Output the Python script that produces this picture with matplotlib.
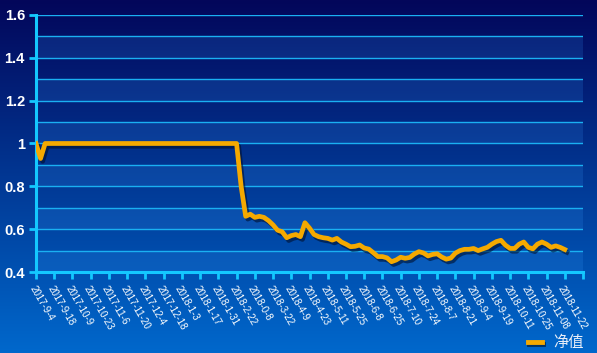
import numpy as np
import matplotlib
matplotlib.use('Agg')
import matplotlib.pyplot as plt
import matplotlib.patheffects as pe

# x 轴分类标签
date_labels = ['2017-9-4', '2017-9-18', '2017-10-9', '2017-10-23', '2017-11-6',
               '2017-11-20', '2017-12-4', '2017-12-18', '2018-1-3', '2018-1-17',
               '2018-1-31', '2018-2-22', '2018-0-8', '2018-3-22', '2018-4-9',
               '2018-4-23', '2018-5-11', '2018-5-25', '2018-6-8', '2018-6-25',
               '2018-7-10', '2018-7-24', '2018-8-7', '2018-8-21', '2018-9-4',
               '2018-9-19', '2018-10-11', '2018-10-25', '2018-11-08', '2018-11-22']

# 净值序列 (每个标签间隔 4 个采样点)
steps_per_label = 4
nav = [1.0, 0.93] + [1.0] * 43 + [
    0.80, 0.66, 0.67, 0.655, 0.66, 0.655, 0.64, 0.62, 0.595, 0.588,
    0.56, 0.57, 0.575, 0.565, 0.63, 0.605, 0.575, 0.565, 0.56, 0.557,
    0.549, 0.557, 0.54, 0.53, 0.518, 0.52, 0.526, 0.512, 0.507, 0.49,
    0.472, 0.472, 0.466, 0.448, 0.456, 0.469, 0.464, 0.468, 0.484, 0.495,
    0.489, 0.475, 0.482, 0.485, 0.47, 0.46, 0.465, 0.488, 0.50, 0.506,
    0.506, 0.51, 0.50, 0.508, 0.515, 0.53, 0.542, 0.548, 0.525, 0.51,
    0.51, 0.53, 0.54, 0.515, 0.508, 0.53, 0.54, 0.53, 0.515, 0.522,
    0.515, 0.505]

y_ticks = [0.4, 0.6, 0.8, 1.0, 1.2, 1.4, 1.6]
y_tick_labels = ['0.4', '0.6', '0.8', '1', '1.2', '1.4', '1.6']

LINE_COLOR = '#f5a900'
AXIS_COLOR = '#14c8ff'

fig = plt.figure(figsize=(5.97, 3.53), dpi=100)

# 背景渐变
bg = fig.add_axes([0, 0, 1, 1], zorder=-10)
top = np.array([3, 6, 90]) / 255
bottom = np.array([0, 104, 204]) / 255
t = np.linspace(0, 1, 256)[:, None]
grad = top[None, :] * (1 - t) + bottom[None, :] * t
bg.imshow(grad[:, None, :].repeat(2, axis=1), aspect='auto', extent=[0, 1, 0, 1])
bg.axis('off')

ax = fig.add_axes([36 / 597, 1 - 272 / 353, (583 - 36) / 597, (272 - 15) / 353])
ax.patch.set_alpha(0)

x = np.arange(len(nav)) / steps_per_label
n_labels = len(date_labels)
ax.set_xlim(0, n_labels)
ax.set_ylim(0.4, 1.6)

# 条纹背景 + 网格线
for k in range(12):
    lo = 0.4 + 0.1 * k
    if k % 2 == 0:
        ax.axhspan(lo, lo + 0.1, color='#3aa0ff', alpha=0.16, lw=0, zorder=0)
for k in range(1, 13):
    ax.axhline(0.4 + 0.1 * k, color='#1ab0f2', lw=1.0, zorder=1)

ax.plot(x, nav, color=LINE_COLOR, lw=3.4, solid_joinstyle='round', zorder=5,
        path_effects=[pe.SimpleLineShadow(offset=(1.5, -2), shadow_color='#001030', alpha=0.6),
                      pe.Normal()])

for s in ['top', 'right']:
    ax.spines[s].set_visible(False)
for s in ['left', 'bottom']:
    ax.spines[s].set_color(AXIS_COLOR)
    ax.spines[s].set_linewidth(2.2)

ax.set_yticks(y_ticks)
ax.set_yticklabels(y_tick_labels, color='white', fontsize=10.5, fontweight='bold',
                   family='Liberation Sans')
ax.set_xticks(np.arange(n_labels + 1))
ax.set_xticklabels(date_labels + [''], color='white', fontsize=7,
                   family='Liberation Sans', rotation=-60, ha='left', va='top',
                   rotation_mode='anchor')
ax.tick_params(axis='both', colors=AXIS_COLOR, length=5, width=2, direction='out')
ax.tick_params(axis='x', pad=4, labelcolor='white')
ax.tick_params(axis='y', pad=3, labelcolor='white')

# 图例
fig.lines.append(plt.Line2D([528 / 597, 542 / 597], [1 - 342 / 353] * 2,
                            color=LINE_COLOR, lw=3.5, transform=fig.transFigure,
                            path_effects=[pe.SimpleLineShadow(offset=(1, -1.5), alpha=0.5), pe.Normal()]))
fig.text(553 / 597, 1 - 342 / 353, '净值', color='#e8eef8', fontsize=11,
         family=['Noto Sans CJK SC', 'DejaVu Sans'], va='center', ha='left')

fig.savefig('out.png', dpi=100)
